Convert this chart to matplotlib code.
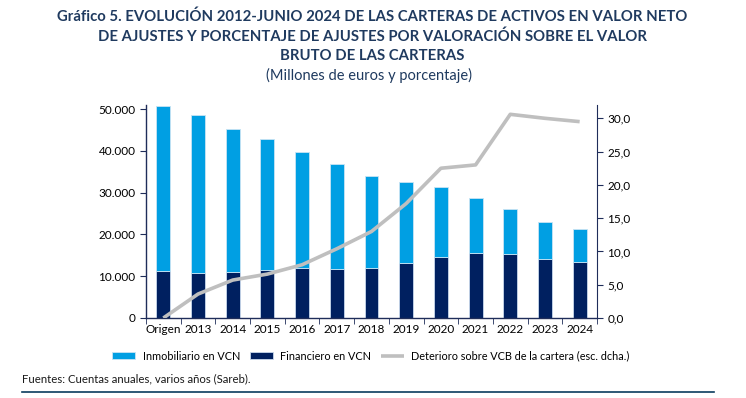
import matplotlib
matplotlib.use("Agg")
import matplotlib.pyplot as plt
import numpy as np

plt.rcParams['font.family'] = ['Lato', 'DejaVu Sans']

categories = ["Origen", "2013", "2014", "2015", "2016", "2017", "2018",
              "2019", "2020", "2021", "2022", "2023", "2024"]
financiero = [11200, 10800, 11000, 11600, 12000, 11800, 12000,
              13100, 14500, 15500, 15300, 14200, 13300]
inmobiliario = [39600, 37900, 34300, 31300, 27800, 25100, 22000,
                19400, 16900, 13200, 10900, 8800, 8100]
deterioro = [0.0, 3.6, 5.7, 6.6, 8.0, 10.4, 13.0,
             17.2, 22.5, 23.0, 30.6, 30.0, 29.5]
left_ticks = [0, 10000, 20000, 30000, 40000, 50000]
right_ticks = [0, 5, 10, 15, 20, 25, 30]

c_inmo = "#009FE3"
c_fin = "#002060"
c_line = "#BFBFBF"
c_axis = "#1F2D5A"
c_title = "#1F3A5F"

fig = plt.figure(figsize=(7.46, 3.98), dpi=100)
W, H = 746, 398
ax = fig.add_axes([146 / W, 1 - 318 / H, (597 - 146) / W, (318 - 105) / H])
x = np.arange(len(categories))

ax.bar(x, financiero, width=0.4, color=c_fin, edgecolor="#C8D8EC", linewidth=0.6,
       label="Financiero en VCN", zorder=2)
ax.bar(x, inmobiliario, width=0.4, bottom=financiero, color=c_inmo,
       edgecolor="#C8E4F4", linewidth=0.6, label="Inmobiliario en VCN", zorder=2)

ax.set_xlim(-0.5, len(categories) - 0.5)
ax.set_ylim(0, 51000)
ax.set_yticks(left_ticks)
ax.set_yticklabels([f"{v:,}".replace(",", ".") for v in left_ticks], fontsize=8.5)
ax.set_xticks(x)
ax.set_xticklabels(categories, fontsize=8.5)
ax.set_xticks(np.arange(-0.5, len(categories), 1), minor=True)
ax.tick_params(axis="x", which="major", length=0, pad=4)
ax.tick_params(axis="x", which="minor", length=4, direction="out", color=c_axis)
ax.tick_params(axis="y", length=4, direction="out", color=c_axis)
for s in ["top", "right"]:
    ax.spines[s].set_visible(False)
for s in ["left", "bottom"]:
    ax.spines[s].set_color(c_axis)
    ax.spines[s].set_linewidth(1)

ax2 = ax.twinx()
ax2.plot(x, deterioro, color=c_line, linewidth=2.6, solid_capstyle="butt",
         label="Deterioro sobre VCB de la cartera (esc. dcha.)", zorder=3)
ax2.set_ylim(0, 32)
ax2.set_yticks(right_ticks)
ax2.set_yticklabels([f"{v:.1f}".replace(".", ",") for v in right_ticks], fontsize=8.5)
ax2.tick_params(axis="y", length=4, direction="out", color=c_axis)
for s in ["top", "left", "bottom"]:
    ax2.spines[s].set_visible(False)
ax2.spines["right"].set_color(c_axis)

h1, l1 = ax.get_legend_handles_labels()
h2, l2 = ax2.get_legend_handles_labels()
handles = [h1[1], h1[0], h2[0]]
labels = [l1[1], l1[0], l2[0]]
fig.legend(handles, labels, loc="center", bbox_to_anchor=(371 / W, 1 - 356 / H),
           ncol=3, frameon=False, fontsize=7.8, handlelength=2.1, handleheight=0.6,
           columnspacing=0.9, handletextpad=0.7, borderpad=0)

fig.text(372 / W, 1 - 17 / H, "Gráfico 5. EVOLUCIÓN 2012-JUNIO 2024 DE LAS CARTERAS DE ACTIVOS EN VALOR NETO",
         ha="center", va="center", fontsize=10.7, fontweight="bold", color=c_title)
fig.text(372 / W, 1 - 37 / H, "DE AJUSTES Y PORCENTAJE DE AJUSTES POR VALORACIÓN SOBRE EL VALOR",
         ha="center", va="center", fontsize=10.7, fontweight="bold", color=c_title)
fig.text(372 / W, 1 - 56 / H, "BRUTO DE LAS CARTERAS",
         ha="center", va="center", fontsize=10.7, fontweight="bold", color=c_title)
fig.text(369 / W, 1 - 75 / H, "(Millones de euros y porcentaje)",
         ha="center", va="center", fontsize=10.5, color=c_title)
fig.text(22 / W, 1 - 379 / H, "Fuentes: Cuentas anuales, varios años (Sareb).",
         ha="left", va="center", fontsize=8.2, color="#1A1A1A")
fig.add_artist(plt.Line2D([22 / W, 714 / W], [1 - 392 / H, 1 - 392 / H],
                          color="#0B3C5D", linewidth=1.2))

fig.savefig("out.png", dpi=100)
